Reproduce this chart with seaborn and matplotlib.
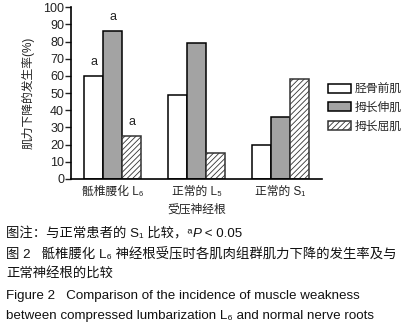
import matplotlib
matplotlib.use("Agg")
import matplotlib.pyplot as plt
import seaborn as sns
import pandas as pd

sns.set_theme(style="ticks")
plt.rcParams['font.family'] = ['Liberation Sans', 'Noto Sans CJK SC', 'DejaVu Sans']
plt.rcParams['hatch.linewidth'] = 0.6

groups = ["骶椎腰化 L₆", "正常的 L₅", "正常的 S₁"]
muscles = ["胫骨前肌", "拇长伸肌", "拇长屈肌"]
tibialis = [60, 49, 20]
ehl = [86, 79, 36]
fhl = [25, 15, 58]
yticks = [0, 10, 20, 30, 40, 50, 60, 70, 80, 90, 100]

rows = []
for g, a, b, c in zip(groups, tibialis, ehl, fhl):
    rows += [(g, muscles[0], a), (g, muscles[1], b), (g, muscles[2], c)]
df = pd.DataFrame(rows, columns=["group", "muscle", "value"])

fig = plt.figure(figsize=(4.08, 3.26), dpi=100)
ax = fig.add_axes([0.174, 0.451, 0.615, 0.527])
palette = {muscles[0]: "white", muscles[1]: "#a3a3a3", muscles[2]: "white"}
sns.barplot(data=df, x="group", y="value", hue="muscle", palette=palette,
            width=0.68, edgecolor="black", linewidth=1.1, ax=ax, legend=True)

for cont, m in zip(ax.containers, muscles):
    for p in cont:
        if m == muscles[2]:
            p.set_hatch("//////")
            p.set_edgecolor("#333333")

# significance marks on first group
for cont in ax.containers:
    p = cont[0]
    ax.text(p.get_x() + p.get_width() / 2, p.get_height() + 4.5, "a",
            ha="center", va="bottom", fontsize=9, color="#222222")

ax.set_ylim(0, 100)
ax.set_xlim(-0.5, 2.5)
ax.set_yticks(yticks)
ax.tick_params(axis="y", length=4, width=1, labelsize=9, pad=1, colors="#222222")
ax.tick_params(axis="x", length=0, labelsize=8.5, pad=5, colors="#222222")
sns.despine(ax=ax)
for s in ["left", "bottom"]:
    ax.spines[s].set_linewidth(1.2)
    ax.spines[s].set_color("black")
ax.set_ylabel("肌力下降的发生率(%)", fontsize=8.5, color="#222222", labelpad=6)
ax.set_xlabel("受压神经根", fontsize=8.5, color="#222222", labelpad=4)

handles, labels = ax.get_legend_handles_labels()
leg = ax.legend(handles, labels, loc="upper left", bbox_to_anchor=(1.0, 0.59),
                frameon=False, fontsize=8.5, handlelength=2.0, handleheight=0.8,
                labelspacing=0.55, handletextpad=0.3, borderaxespad=0.1)
for h, m in zip(leg.legend_handles, muscles):
    h.set_edgecolor("black")
    if m == muscles[2]:
        h.set_hatch("//////")
        h.set_edgecolor("#333333")

capfs = 9.6
renderer = fig.canvas.get_renderer()
# line 1 built from pieces so that P can be italic
x0 = 0.015
pieces = [("图注：与正常患者的 S₁ 比较，ᵃ", "normal"), ("P", "italic"), (" < 0.05", "normal")]
x = x0
for t, st in pieces:
    tx = fig.text(x, 0.282, t, fontsize=capfs, color="#111111", ha="left",
                  va="center", style=st)
    bb = tx.get_window_extent(renderer=renderer)
    x += bb.width / fig.bbox.width

cap = [
    (x0, 0.218, "图 2   骶椎腰化 L₆ 神经根受压时各肌肉组群肌力下降的发生率及与"),
    (x0, 0.162, "正常神经根的比较"),
    (x0, 0.092, "Figure 2   Comparison of the incidence of muscle weakness"),
    (x0, 0.030, "between compressed lumbarization L₆ and normal nerve roots"),
]
for xx, y, t in cap:
    fig.text(xx, y, t, fontsize=capfs, color="#111111", ha="left", va="center")

fig.savefig("out.png", dpi=100)
